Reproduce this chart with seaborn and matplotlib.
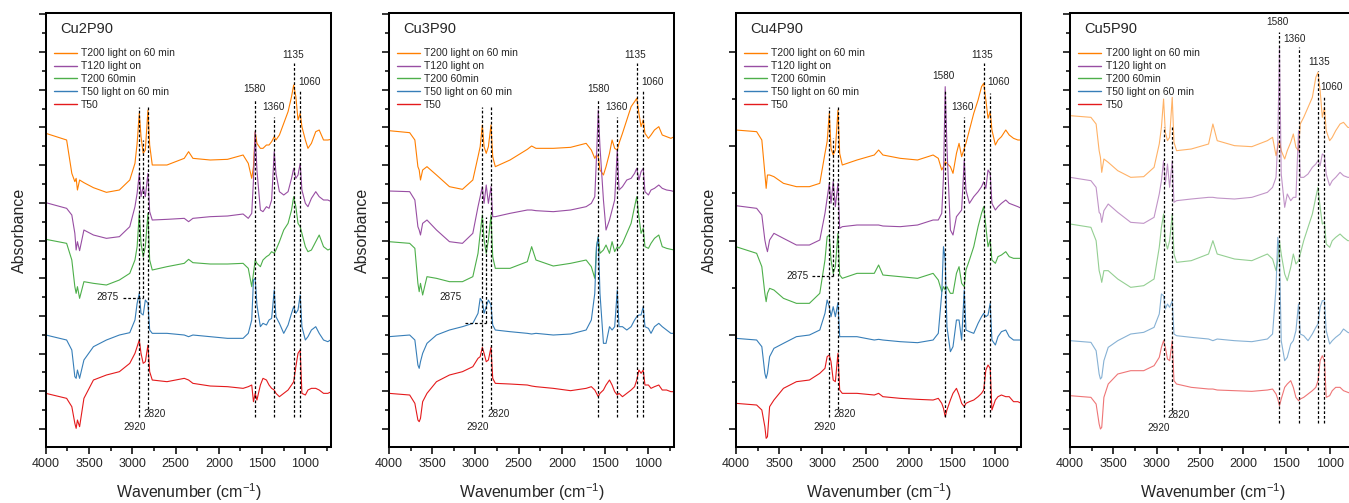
import pandas as pd
import seaborn as sns
import matplotlib.pyplot as plt
from matplotlib.ticker import MultipleLocator
from matplotlib.lines import Line2D

# Eix de nombres d'ona comu a tots els espectres (cm-1)
wavenumber = [4000, 3760, 3700, 3665, 3650, 3635, 3610, 3560, 3450, 3300,
              3150, 3030, 2970, 2945, 2920, 2900, 2875, 2850, 2820, 2800,
              2770, 2600, 2400, 2350, 2300, 2100, 1900, 1720, 1660, 1620,
              1600, 1580, 1560, 1520, 1490, 1450, 1420, 1390, 1360, 1340,
              1300, 1250, 1200, 1160, 1135, 1110, 1085, 1060, 1040, 1000,
              970, 930, 880, 840, 790, 740, 700]

series_names = ["T200 light on 60 min", "T120 light on", "T200 60min",
                "T50 light on 60 min", "T50"]
samples = ["Cu2P90", "Cu3P90", "Cu4P90", "Cu5P90"]

# Absorbancia (u.a., espectres apilats)
cu2_t200_light = [980, 960, 860, 835, 845, 810, 840, 832, 817, 803,
                  810, 840, 890, 950, 1040, 970, 920, 930, 1050, 945,
                  885, 885, 905, 925, 905, 900, 902, 915, 890, 845,
                  880, 985, 950, 935, 935, 945, 945, 955, 970, 960,
                  975, 1010, 1045, 1090, 1125, 1090, 1020, 1040, 1000, 960,
                  935, 950, 985, 990, 960, 960, 962]
cu2_t120_light = [772, 755, 735, 680, 630, 655, 628, 690, 675, 665,
                  670, 700, 760, 800, 860, 790, 820, 790, 860, 745,
                  720, 722, 725, 715, 725, 730, 732, 738, 725, 740,
                  840, 985, 870, 750, 745, 760, 755, 780, 925, 860,
                  805, 795, 805, 845, 875, 845, 855, 890, 810, 770,
                  760, 785, 805, 790, 780, 780, 775]
cu2_t200 = [662, 650, 600, 520, 500, 520, 485, 535, 530, 525,
            540, 560, 600, 640, 740, 650, 610, 640, 740, 600,
            570, 580, 590, 602, 592, 588, 588, 590, 575, 520,
            560, 600, 590, 580, 600, 610, 615, 625, 620, 630,
            655, 690, 710, 750, 790, 760, 710, 700, 680, 640,
            625, 630, 655, 675, 640, 630, 635]
cu2_t50_light = [375, 360, 330, 250, 245, 270, 245, 300, 340, 360,
                 375, 382, 420, 470, 500, 440, 435, 480, 470, 390,
                 380, 380, 375, 370, 375, 370, 365, 365, 380, 420,
                 540, 545, 465, 400, 410, 405, 420, 425, 510, 430,
                 410, 380, 405, 440, 460, 440, 450, 495, 400, 360,
                 370, 390, 400, 380, 360, 355, 362]
cu2_t50 = [200, 185, 160, 110, 95, 120, 100, 185, 240, 255,
           265, 290, 320, 340, 360, 320, 290, 295, 345, 265,
           240, 235, 245, 240, 230, 222, 220, 215, 220, 225,
           175, 200, 180, 225, 245, 240, 225, 215, 210, 200,
           190, 200, 210, 225, 235, 280, 320, 330, 200, 195,
           210, 215, 215, 210, 200, 200, 205]

cu3_t200_light = [988, 982, 960, 880, 870, 840, 870, 880, 855, 820,
                  812, 840, 910, 940, 1005, 940, 920, 940, 1005, 910,
                  880, 900, 932, 942, 935, 935, 938, 950, 930, 905,
                  915, 910, 870, 855, 880, 920, 960, 935, 930, 950,
                  980, 1020, 1060, 1075, 1085, 1040, 1000, 1020, 980, 965,
                  975, 990, 1000, 975, 970, 965, 970]
cu3_t120_light = [807, 805, 780, 700, 690, 675, 710, 720, 690, 655,
                  650, 680, 760, 790, 820, 770, 825, 770, 820, 730,
                  730, 740, 750, 750, 748, 745, 750, 760, 770, 790,
                  910, 1050, 940, 780, 690, 720, 750, 780, 930, 810,
                  820, 840, 845, 860, 875, 840, 865, 875, 805, 795,
                  810, 815, 825, 815, 810, 808, 805]
cu3_t200 = [655, 650, 635, 530, 505, 530, 495, 550, 545, 535,
            535, 550, 620, 680, 735, 660, 620, 660, 735, 610,
            575, 575, 595, 640, 600, 582, 590, 600, 580, 545,
            640, 670, 620, 630, 645, 620, 655, 625, 640, 635,
            650, 680, 710, 760, 790, 730, 680, 695, 640, 635,
            650, 665, 675, 640, 635, 632, 630]
cu3_t50_light = [370, 375, 360, 285, 275, 295, 320, 350, 375, 390,
                 400, 410, 440, 485, 475, 440, 460, 480, 465, 405,
                 390, 385, 380, 378, 380, 375, 378, 390, 420, 500,
                 640, 670, 500, 350, 350, 400, 390, 400, 510, 400,
                 400, 390, 400, 420, 430, 435, 435, 460, 400, 395,
                 380, 400, 410, 400, 390, 380, 380]
cu3_t50 = [200, 195, 170, 120, 115, 125, 175, 200, 235, 255,
           265, 280, 305, 310, 338, 320, 295, 300, 338, 245,
           230, 228, 225, 222, 220, 215, 208, 215, 220, 210,
           200, 190, 200, 210, 225, 240, 225, 205, 195, 200,
           190, 200, 210, 220, 240, 270, 260, 270, 225, 225,
           215, 220, 225, 210, 210, 205, 205]

cu4_t200_light = [990, 985, 960, 860, 815, 855, 855, 850, 830, 820,
                  820, 830, 920, 955, 1040, 935, 915, 930, 1050, 920,
                  885, 900, 915, 930, 915, 905, 900, 915, 905, 870,
                  880, 895, 890, 880, 860, 920, 950, 910, 935, 950,
                  990, 1040, 1080, 1120, 1130, 1080, 1025, 1045, 990, 945,
                  960, 970, 990, 975, 965, 960, 960]
cu4_t120_light = [763, 755, 735, 660, 640, 625, 660, 680, 665, 645,
                  645, 660, 740, 785, 830, 770, 835, 760, 830, 695,
                  700, 705, 705, 705, 702, 700, 705, 720, 720, 740,
                  850, 1120, 940, 690, 675, 730, 740, 750, 900, 810,
                  770, 790, 805, 820, 835, 815, 870, 860, 770, 750,
                  760, 770, 780, 770, 765, 760, 755]
cu4_t200 = [640, 620, 580, 500, 475, 500, 515, 510, 485, 470,
            470, 500, 600, 670, 675, 600, 560, 580, 680, 555,
            545, 560, 560, 585, 555, 550, 545, 560, 540, 505,
            520, 510, 520, 500, 500, 560, 580, 530, 520, 570,
            600, 640, 700, 740, 760, 700, 640, 660, 600, 590,
            610, 615, 625, 610, 605, 605, 605]
cu4_t50_light = [365, 360, 340, 260, 245, 260, 310, 335, 350, 370,
                 375, 390, 440, 480, 460, 430, 460, 430, 472, 370,
                 370, 370, 360, 362, 360, 355, 352, 360, 380, 500,
                 640, 600, 400, 325, 340, 420, 420, 360, 510, 390,
                 385, 380, 410, 430, 440, 430, 435, 470, 360, 345,
                 370, 385, 390, 370, 360, 360, 360]
cu4_t50 = [170, 165, 150, 100, 65, 70, 160, 180, 215, 235,
           240, 260, 275, 310, 315, 295, 240, 235, 320, 210,
           200, 200, 195, 200, 190, 185, 182, 180, 185, 170,
           155, 130, 150, 180, 200, 215, 195, 170, 160, 170,
           175, 180, 190, 200, 210, 270, 285, 275, 150, 180,
           190, 195, 190, 190, 175, 175, 170]

cu5_t200_light = [1033, 1028, 1008, 928, 908, 863, 903, 893, 868, 848,
                  850, 878, 948, 998, 1083, 983, 958, 968, 1088, 953,
                  928, 933, 948, 1008, 958, 943, 940, 958, 968, 913,
                  938, 958, 928, 903, 928, 953, 978, 938, 928, 1008,
                  1028, 1058, 1088, 1148, 1163, 1108, 1028, 1058, 988, 958,
                  968, 988, 1008, 1013, 998, 996, 993]
cu5_t120_light = [848, 838, 818, 743, 738, 713, 748, 768, 743, 713,
                  710, 728, 798, 838, 898, 828, 888, 818, 898, 773,
                  778, 783, 788, 788, 786, 783, 788, 803, 818, 848,
                  958, 1238, 858, 758, 798, 778, 788, 788, 988, 848,
                  848, 858, 878, 888, 898, 883, 918, 913, 858, 823,
                  838, 848, 863, 853, 848, 848, 848]
cu5_t200 = [708, 698, 658, 568, 553, 533, 568, 568, 543, 518,
            523, 543, 638, 698, 738, 658, 633, 658, 738, 618,
            593, 598, 618, 658, 618, 603, 598, 618, 603, 568,
            598, 658, 618, 558, 538, 578, 618, 588, 598, 618,
            658, 698, 738, 788, 818, 758, 708, 713, 648, 638,
            658, 668, 678, 668, 658, 658, 658]
cu5_t50_light = [358, 353, 328, 258, 243, 248, 298, 338, 358, 378,
                 383, 398, 438, 498, 493, 453, 468, 458, 478, 378,
                 373, 368, 363, 358, 363, 358, 355, 363, 378, 518,
                 668, 618, 358, 298, 308, 348, 358, 388, 468, 378,
                 373, 358, 378, 398, 408, 458, 478, 478, 388, 348,
                 358, 368, 378, 393, 383, 378, 378]
cu5_t50 = [193, 188, 168, 108, 93, 98, 188, 228, 258, 268,
           268, 283, 308, 338, 358, 338, 303, 298, 358, 238,
           228, 218, 213, 213, 210, 208, 206, 210, 213, 198,
           183, 163, 183, 218, 228, 238, 218, 188, 178, 183,
           188, 198, 208, 218, 238, 298, 313, 298, 188, 193,
           208, 218, 218, 208, 203, 198, 198]

spectra = {
    "Cu2P90": [cu2_t200_light, cu2_t120_light, cu2_t200, cu2_t50_light, cu2_t50],
    "Cu3P90": [cu3_t200_light, cu3_t120_light, cu3_t200, cu3_t50_light, cu3_t50],
    "Cu4P90": [cu4_t200_light, cu4_t120_light, cu4_t200, cu4_t50_light, cu4_t50],
    "Cu5P90": [cu5_t200_light, cu5_t120_light, cu5_t200, cu5_t50_light, cu5_t50],
}

# Bandes marcades
bands = [2920, 2820, 1580, 1360, 1135, 1060]

# Posicio de les linies i etiquetes a cada panell: banda -> (dalt, baix, x text, y text)
marks = {
    "Cu2P90": {2920: (1059, 130, 2968, 98), 2820: (1059, 152, 2737, 138),
               1580: (1080, 130, 1583, 1112), 1360: (1029, 130, 1364, 1060),
               1135: (1191, 130, 1143, 1215), 1060: (1110, 130, 956, 1135)},
    "Cu3P90": {2920: (1059, 130, 2971, 98), 2820: (1059, 152, 2737, 138),
               1580: (1080, 130, 1582, 1112), 1360: (1029, 130, 1374, 1060),
               1135: (1191, 130, 1149, 1215), 1060: (1110, 130, 956, 1134)},
    "Cu4P90": {2920: (1059, 130, 2979, 98), 2820: (1059, 152, 2744, 138),
               1580: (1110, 130, 1599, 1152), 1360: (1029, 130, 1383, 1060),
               1135: (1191, 130, 1152, 1215), 1060: (1100, 130, 968, 1134)},
    "Cu5P90": {2920: (1000, 128, 2978, 96), 2820: (1000, 150, 2742, 136),
               1580: (1283, 111, 1600, 1313), 1360: (1238, 111, 1403, 1263),
               1135: (1168, 111, 1127, 1193), 1060: (1093, 111, 977, 1118)},
}
# Banda 2875: (dalt, baix, x inici horitzontal, x text, y text)
mark_2875 = {
    "Cu2P90": (960, 487, 3105, 3289, 488),
    "Cu3P90": (730, 410, 3120, 3291, 488),
    "Cu4P90": (965, 552, 3125, 3289, 553),
}

sns.set_theme(style="ticks")
plt.rcParams["font.family"] = ["Liberation Sans", "DejaVu Sans"]
plt.rcParams["mathtext.default"] = "regular"

pal = sns.color_palette("Set1")
palette = dict(zip(series_names, [pal[4], pal[3], pal[2], pal[1], pal[0]]))

fig = plt.figure(figsize=(13.49, 5.03), dpi=100)
lefts = [0.0340, 0.2883, 0.5455, 0.7933]
dash = (0, (2.2, 1.6))

for i, sample in enumerate(samples):
    ax = fig.add_axes([lefts[i], 0.1113, 0.2116, 0.8622])
    frames = []
    for name, values in zip(series_names, spectra[sample]):
        frames.append(pd.DataFrame({"wavenumber": wavenumber, "absorbance": values, "series": name}))
    df = pd.concat(frames, ignore_index=True)
    alpha = 0.6 if sample == "Cu5P90" else 1.0
    sns.lineplot(data=df, x="wavenumber", y="absorbance", hue="series",
                 hue_order=series_names, palette=palette, estimator=None,
                 sort=False, lw=0.8, alpha=alpha, legend=False, ax=ax)

    # linies discontinues i etiquetes de les bandes
    for b in bands:
        top, bottom, tx, ty = marks[sample][b]
        ax.plot([b, b], [bottom, top], color="black", lw=0.9, ls=dash, zorder=4)
        ax.text(tx, ty, str(b), fontsize=7.2, ha="center", va="center", color="#222222")
    if sample in mark_2875:
        top, bottom, hx, tx, ty = mark_2875[sample]
        ax.plot([2875, 2875], [bottom, top], color="black", lw=0.9, ls=dash, zorder=4)
        ax.plot([hx, 2875], [bottom, bottom], color="black", lw=0.9, ls=dash, zorder=4)
        ax.text(tx, ty, "2875", fontsize=7.2, ha="center", va="center", color="#222222")

    ax.set_xlim(4000, 700)
    ax.set_ylim(39, 1340)
    ax.xaxis.set_major_locator(MultipleLocator(500))
    ax.xaxis.set_minor_locator(MultipleLocator(250))
    if sample == "Cu4P90":
        ax.yaxis.set_major_locator(MultipleLocator(282.75, offset=93))
        ax.yaxis.set_minor_locator(MultipleLocator(141.375, offset=93))
    else:
        ax.yaxis.set_major_locator(MultipleLocator(113.1, offset=93))
        ax.yaxis.set_minor_locator(MultipleLocator(56.55, offset=93))
    ax.tick_params(which="major", direction="out", length=5, width=1.1,
                   labelsize=9, pad=3, color="black")
    ax.tick_params(which="minor", direction="out", length=2.8, width=1.1, color="black")
    ax.tick_params(axis="y", labelleft=False)
    for s in ax.spines.values():
        s.set_linewidth(1.45)
        s.set_color("black")

    ax.set_xlabel("Wavenumber (cm$^{-1}$)", fontsize=11.5)
    ax.xaxis.set_label_coords(0.5, -0.078)
    if sample != "Cu5P90":
        ax.set_ylabel("Absorbance", fontsize=11.5)
        ax.yaxis.set_label_coords(-0.066, 0.5)
    else:
        ax.set_ylabel("")

    ax.text(0.049, 0.965, sample, transform=ax.transAxes, fontsize=10.5,
            ha="left", va="center")

    handles = [Line2D([], [], color=palette[n], lw=1.0) for n in series_names]
    ax.legend(handles, series_names, loc="upper left", bbox_to_anchor=(0.029, 0.919),
              frameon=False, fontsize=7.5, handlelength=2.15, handletextpad=0.45,
              labelspacing=0.27, borderpad=0, borderaxespad=0)

fig.savefig("out.png", dpi=100)
